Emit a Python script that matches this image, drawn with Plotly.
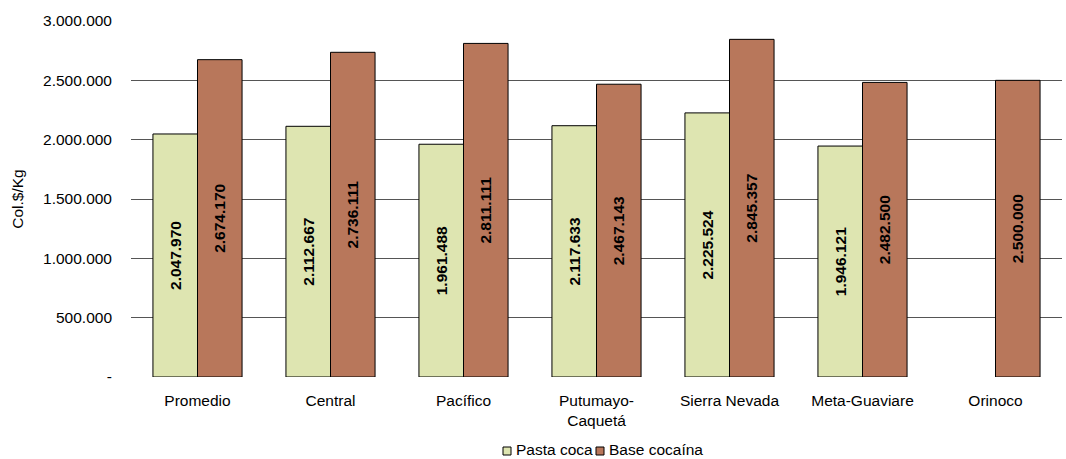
import plotly.graph_objects as go

categories = ["Promedio", "Central", "Pacífico", "Putumayo-<br>Caquetá", "Sierra Nevada", "Meta-Guaviare", "Orinoco"]
pasta_coca = [2047970, 2112667, 1961488, 2117633, 2225524, 1946121, None]
base_cocaina = [2674170, 2736111, 2811111, 2467143, 2845357, 2482500, 2500000]
tick_vals = [0, 500000, 1000000, 1500000, 2000000, 2500000, 3000000]
tick_text = ["-", "500.000", "1.000.000", "1.500.000", "2.000.000", "2.500.000", "3.000.000"]
series_names = ["Pasta coca", "Base cocaína"]
series_colors = ["#DEE5B1", "#B8775B"]

FONT = "Liberation Sans, Arial"


def fmt(v):
    return "" if v is None else f"{v:,}".replace(",", ".")


fig = go.Figure()
for name, vals, col in zip(series_names, [pasta_coca, base_cocaina], series_colors):
    fig.add_trace(go.Bar(
        name=name, x=categories, y=vals,
        marker=dict(color=col, line=dict(color="#000000", width=1)),
        text=[fmt(v) for v in vals], textposition="inside", insidetextanchor="middle",
        textangle=-90,
        textfont=dict(family=FONT, size=15.5, color="#000000", weight="bold"),
        showlegend=False,
    ))

# legend drawn as small bordered squares + text, like the original
W, H = 931.0, 356.0  # plot area size in px
def px_x(p):
    return (p - 131) / W
def px_y(p):
    return (377 - p) / H

legend_items = [(503, 515), (596, 608)]
for (sx, tx), name, col in zip(legend_items, series_names, series_colors):
    fig.add_shape(type="rect", xref="paper", yref="paper",
                  x0=px_x(sx), x1=px_x(sx + 8), y0=px_y(455), y1=px_y(447),
                  fillcolor=col, line=dict(color="#000000", width=1))
    fig.add_annotation(xref="paper", yref="paper", x=px_x(tx), y=px_y(450),
                       text=name, showarrow=False, xanchor="left", yanchor="middle",
                       borderpad=0,
                       font=dict(family=FONT, size=15.5, color="#000000"))

fig.update_layout(
    width=1066, height=459,
    margin=dict(l=131, r=4, t=21, b=82, autoexpand=False),
    paper_bgcolor="white", plot_bgcolor="white",
    barmode="group", bargap=0.33, bargroupgap=0,
    font=dict(family=FONT, size=15.5, color="#000000"),
    showlegend=False,
    uniformtext=dict(mode="show", minsize=10),
)
fig.update_yaxes(
    range=[0, 3000000], tickvals=tick_vals, ticktext=tick_text,
    showgrid=True, gridcolor="#555555", gridwidth=1,
    showline=False, zeroline=False,
    ticks="", ticklabelstandoff=18, automargin=False,
    tickfont=dict(size=15.5),
    title=dict(text="Col.$/Kg", font=dict(size=15.5), standoff=15),
)
fig.update_xaxes(showline=False, ticks="", tickangle=0, ticklabelstandoff=12,
                 automargin=False, tickfont=dict(size=15.5))

fig.write_html("out.html", config={"displayModeBar": False},
               post_script="document.body.style.margin='0';document.body.style.overflow='hidden';")
